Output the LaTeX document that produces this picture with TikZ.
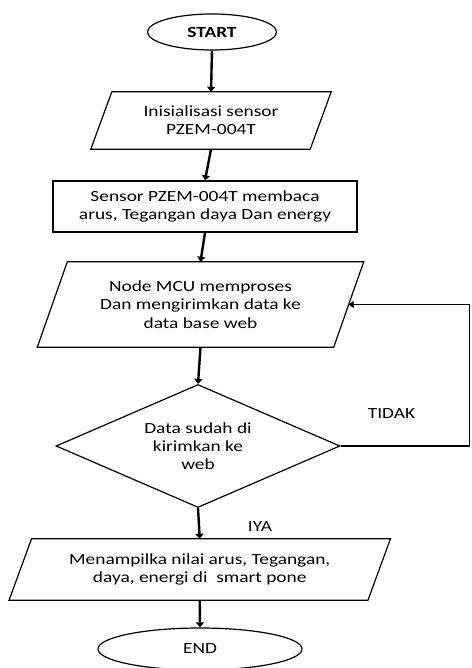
\documentclass[tikz,border=0pt]{standalone}
\usepackage{fontspec}
\setmainfont{Carlito}[FakeStretch=1.25]
\usetikzlibrary{shapes.geometric,arrows.meta}
\newcommand{\flowfont}{\fontsize{15.5pt}{18.3pt}\selectfont}
\tikzset{
  shapeline/.style={line width=1.2pt},
  box/.style={inner sep=0pt, align=center, font=\flowfont},
  terminal/.style={ellipse, draw, shapeline, inner sep=0pt, font=\flowfont},
  arr/.style={line width=2.4pt, -{Triangle[length=5pt,width=8pt]}},
  fbarr/.style={line width=1.8pt, -{Triangle[length=5pt,width=7pt]}},
  lbl/.style={inner sep=0pt, font=\flowfont}
}
\newcommand{\drawpara}[2]{\draw[shapeline] ([xshift=#2/2]#1.north west) -- ([xshift=#2/2]#1.north east) -- ([xshift=-#2/2]#1.south east) -- ([xshift=-#2/2]#1.south west) -- cycle;}
\begin{document}
\begin{tikzpicture}[x=1pt,y=-1pt]
\useasboundingbox (0,0) rectangle (471,668);
\node[terminal, minimum width=129pt, minimum height=36pt] (start) at (212,32) {\bfseries START};
\node[box, minimum width=219pt, minimum height=57pt] (p1) at (211,120.5) {Inisialisasi sensor\\PZEM-004T};
\drawpara{p1}{21}
\node[box, draw, shapeline, minimum width=304pt, minimum height=51pt] (r2) at (205,206.5) {Sensor PZEM-004T membaca\\arus, Tegangan daya Dan energy};
\node[box, minimum width=296pt, minimum height=85pt] (p3) at (200.5,304.5) {Node MCU memproses\\Dan mengirimkan data ke\\data base web};
\drawpara{p3}{30}
\node[diamond, draw, shapeline, aspect=2.3, minimum width=284pt, minimum height=123pt, inner sep=0pt, align=center, font=\flowfont] (d) at (198,446) {Data sudah di\\kirimkan ke\\web};
\node[box, minimum width=358.5pt, minimum height=61pt] (p4) at (199.75,569.5) {Menampilka nilai arus, Tegangan,\\daya, energi di~ smart pone};
\drawpara{p4}{22.5}
\node[terminal, minimum width=204pt, minimum height=42pt] (end) at (200,649) {END};
\node[lbl] (tidak) at (391.5,413.5) {TIDAK};
\node[lbl] (iya) at (260,527) {IYA};
\coordinate (fb) at (469.5,306);
\draw[arr] (start.south) -- (p1.north);
\draw[arr] (p1.south) -- (r2.north);
\draw[arr] (r2.south) -- (p3.north);
\draw[arr] (p3.south) -- (d.north);
\draw[arr] (d.south) -- (p4.north);
\draw[arr] (p4.south) -- (end.north);
\draw[fbarr] (d.east) -- (d.east -| fb) -- (fb |- p3.east) -- (p3.east);
\end{tikzpicture}
\end{document}
